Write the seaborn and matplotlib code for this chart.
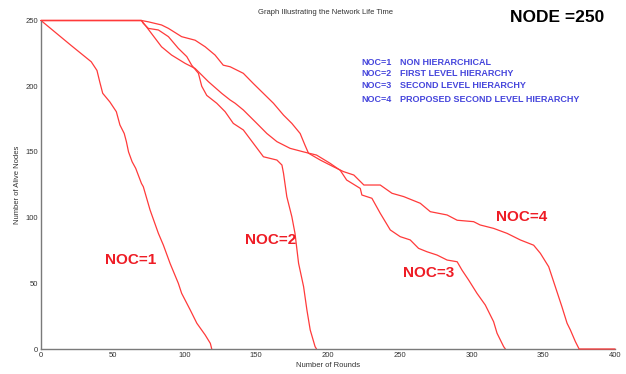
import matplotlib
matplotlib.use("Agg")
import matplotlib.pyplot as plt
import seaborn as sns
import pandas as pd

# Alive nodes per round for each number-of-clusters (NOC) scheme, 250 nodes
noc1_rounds = [0, 21, 35, 39, 41, 43, 48, 52.5, 55, 58, 59.5, 61, 63.5, 66, 70, 71.3, 76,
               81.8, 85.3, 90, 95.7, 98, 104, 108.6, 114.4, 118, 119]
noc1_alive = [250, 231, 218.6, 212, 203, 194.6, 188, 180.6, 170.5, 164, 157.8, 150, 142.5,
              137.5, 126, 123.5, 105.8, 88, 79, 65, 50, 42.4, 29.7, 19.6, 10.7, 4.3, 0]

noc2_rounds = [0, 70, 71.3, 74.8, 81.8, 88.8, 95.7, 101.6, 105, 109.7, 112, 115.5, 122.5,
               128.3, 134, 141, 148, 155, 164.4, 167.9, 169, 171.3, 174.8, 177, 179.5, 183,
               185.3, 187.6, 191, 192]
noc2_alive = [250, 250, 247.8, 244, 242.8, 237.7, 228.8, 222.5, 216, 209.8, 200, 193, 187,
              180.6, 171.7, 166.7, 156.5, 146.3, 143.8, 140, 133.7, 115.9, 100.7, 88, 65.2,
              47.4, 29.7, 14.5, 1.8, 0]

noc3_rounds = [0, 70, 72.5, 79.5, 84, 91, 100.4, 107.4, 116.7, 126, 131.8, 135.3, 141,
               150.4, 157.4, 164.4, 173.6, 183, 192, 201.5, 208.5, 213, 222.5, 223.6, 230.6,
               236.4, 243.4, 250.3, 257.3, 263.1, 269, 276, 283, 290, 293.4, 298, 303.8,
               309.6, 315.4, 317.8, 322.4, 323.6]
noc3_alive = [250, 250, 246.6, 236.5, 230, 223.7, 217.4, 213.5, 203.4, 194.5, 189.5, 187,
              181.9, 171.7, 164, 157.8, 152.7, 150, 147.6, 141.3, 136, 128.6, 122.2, 117.2,
              114.7, 103.3, 90.6, 85.5, 83, 76.6, 74, 71.5, 67.7, 66.4, 60, 52.5, 42.4, 33.5,
              20.8, 12, 1.8, 0]

noc4_rounds = [0, 70, 74.8, 84, 88.8, 98, 107.4, 114.4, 121.3, 127, 131.8, 141, 148, 155,
               162, 169, 174.8, 180.6, 184, 186.4, 194.6, 203.8, 210.8, 218, 225, 236.4,
               244.6, 252.7, 264.3, 271.3, 283, 290, 301.5, 306, 315.4, 324.8, 334, 343.3,
               348, 353.8, 358.4, 363, 366.6, 368.9, 372.4, 375, 400]
noc4_alive = [250, 250, 249, 246.6, 244, 237.7, 235, 230, 223.7, 216, 214.8, 209.8, 202,
              194.5, 187, 178, 171.7, 164, 155, 149, 143.8, 138.7, 135, 132.4, 124.8, 124.8,
              118.5, 116, 110.9, 104.5, 102, 98, 96.9, 94.4, 91.8, 88, 83, 79, 72.8, 62.6,
              47.4, 32.2, 19.6, 14.5, 5.6, 0, 0]

series_names = ["NOC=1", "NOC=2", "NOC=3", "NOC=4"]
series_desc = ["NON HIERARCHICAL", "FIRST LEVEL HIERARCHY", "SECOND LEVEL HIERARCHY",
               "PROPOSED SECOND LEVEL HIERARCHY"]
curve_label_pos = [(44.6, 67.7), (142.3, 83.0), (252.4, 57.8), (317.3, 100.5)]

x_ticks = [0, 50, 100, 150, 200, 250, 300, 350, 400]
y_ticks = [0, 50, 100, 150, 200, 250]

sns.set_style("white")
plt.rcParams["font.family"] = ["Liberation Sans", "DejaVu Sans"]

line_red = "#ff3a3a"
label_red = "#ee1c25"
legend_blue = "#4646dc"
axis_grey = "#7a7a7a"

fig = plt.figure(figsize=(6.26, 3.74), dpi=100)
ax = fig.add_axes([41 / 626, 1 - 349 / 374, (615 - 41) / 626, (349 - 20.5) / 374])

curves = [(noc1_rounds, noc1_alive), (noc2_rounds, noc2_alive),
          (noc3_rounds, noc3_alive), (noc4_rounds, noc4_alive)]
for i, (rx, ry) in enumerate(curves):
    df = pd.DataFrame({"Number of Rounds": rx, "Number of Alive Nodes": ry})
    sns.lineplot(data=df, x="Number of Rounds", y="Number of Alive Nodes", ax=ax,
                 color=line_red, linewidth=0.9, sort=False, estimator=None,
                 zorder=3 if i == 3 else 2)
for ln in ax.get_lines():
    ln.set_clip_on(False)

ax.set_xlim(0, 400)
ax.set_ylim(0, 250)
ax.set_xticks(x_ticks)
ax.set_yticks(y_ticks)
ax.tick_params(direction="in", length=3, width=0.8, color=axis_grey,
               labelsize=5.5, labelcolor="#333333", pad=2)
for side in ("top", "right"):
    ax.spines[side].set_visible(False)
for side in ("left", "bottom"):
    ax.spines[side].set_color(axis_grey)
    ax.spines[side].set_linewidth(1.0)
    ax.spines[side].set_zorder(2.5)

ax.set_xlabel("Number of Rounds", fontsize=5.5, color="#333333", labelpad=2)
ax.set_ylabel("Number of Alive Nodes", fontsize=5.5, color="#333333", labelpad=3)

# curve annotations
for name, (lx, ly) in zip(series_names, curve_label_pos):
    ax.text(lx, ly, name, color=label_red, fontsize=11, fontweight="bold",
            ha="left", va="center")

# legend block in blue
legend_rows_y = [218.4, 209.7, 200.9, 189.5]
for name, desc, ly in zip(series_names, series_desc, legend_rows_y):
    ax.text(223, ly, name, color=legend_blue, fontsize=6.5, fontweight="bold",
            ha="left", va="center")
    ax.text(250.3, ly, desc, color=legend_blue, fontsize=6.5, fontweight="bold",
            ha="left", va="center")

fig.text(326 / 626, 1 - 12 / 374, "Graph Illustrating the Network Life Time",
         fontsize=5.5, color="#333333", ha="center", va="center")
fig.text(510 / 626, 1 - 17.5 / 374, "NODE =250", fontsize=12.5, fontweight="bold",
         color="black", ha="left", va="center")

fig.savefig("out.png", dpi=100)
